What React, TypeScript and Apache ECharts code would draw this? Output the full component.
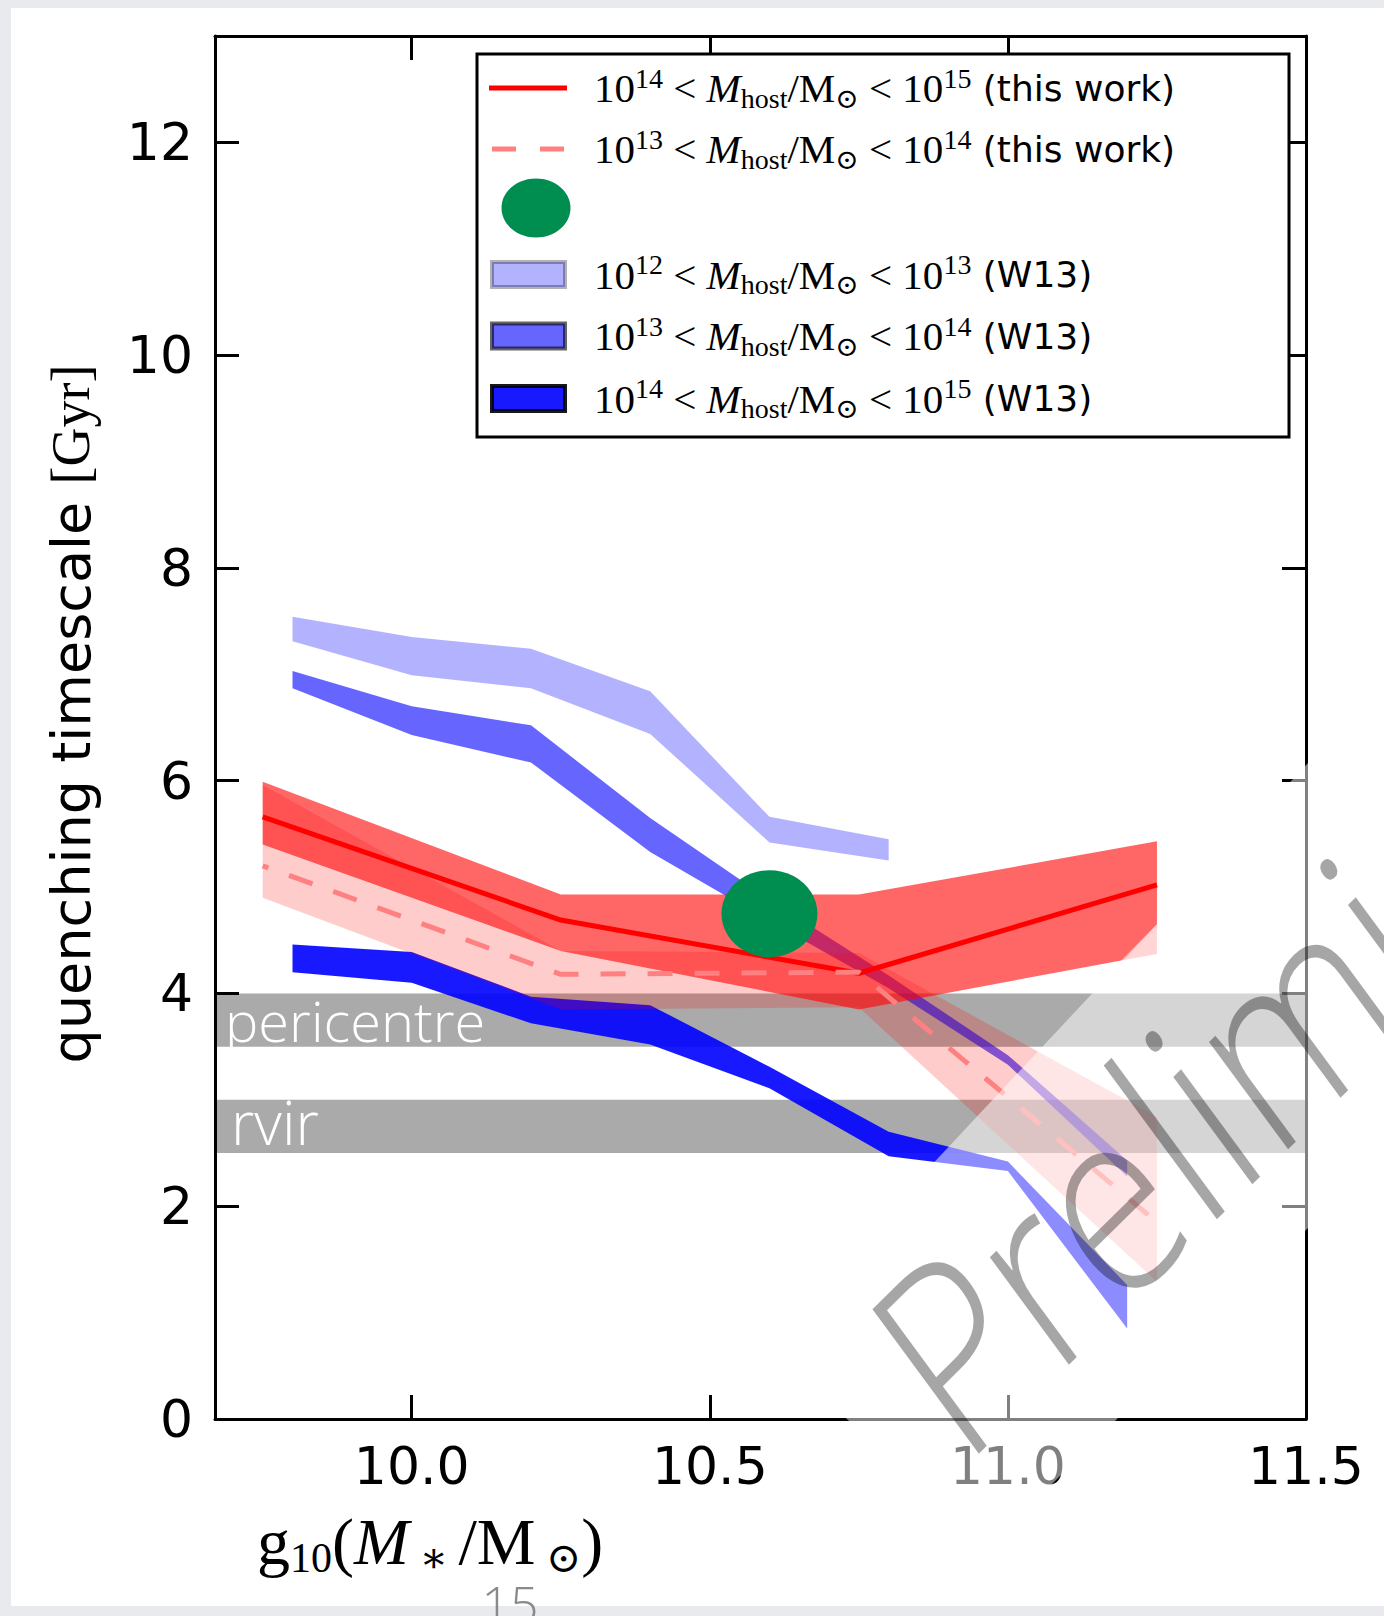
import { useEffect, useRef } from 'react'
import * as echarts from 'echarts'

const W = 1384
const H = 1616

// Wetzel+13 bins (log10 M*)
const w13X = [9.8, 10.0, 10.2, 10.4, 10.6, 10.8, 11.0, 11.2]
const w13LowX = [9.8, 10.0, 10.2, 10.4, 10.6, 10.8]
const w13LowHi = [7.54, 7.35, 7.24, 6.84, 5.66, 5.45]
const w13LowLo = [7.31, 6.99, 6.87, 6.44, 5.42, 5.25]
const w13MidHi = [7.03, 6.7, 6.52, 5.65, 4.88, 4.17, 3.42, 2.43]
const w13MidLo = [6.87, 6.43, 6.17, 5.33, 4.68, 4.05, 3.33, 2.28]
const w13HighHi = [4.46, 4.39, 3.97, 3.89, 3.31, 2.7, 2.42, 1.26]
const w13HighLo = [4.2, 4.1, 3.72, 3.52, 3.11, 2.47, 2.33, 0.85]

// this work
const twX = [9.75, 10.25, 10.75, 11.25]
const clusterMed = [5.66, 4.69, 4.19, 5.02]
const clusterHi = [5.99, 4.93, 4.93, 5.43]
const clusterLoX = [9.75, 10.25, 10.75, 11.19, 11.25]
const clusterLo = [5.4, 4.4, 3.85, 4.31, 4.65]
const clusterTailX = [11.19, 11.25]
const clusterTailHi = [4.31, 4.65]
const clusterTailLo = [4.31, 4.37]
const groupMed = [5.2, 4.18, 4.2, 1.85]
const groupHi = [5.96, 4.4, 4.38, 2.84]
const groupLo = [4.9, 3.85, 3.87, 1.29]

const greenPoint = [10.6, 4.75]

const refNames = ['pericentre', 'rvir']
const refLo = [3.5, 2.5]
const refHi = [4.0, 3.0]

const xTicks = [10.0, 10.5, 11.0, 11.5]
const yTicks = [0, 2, 4, 6, 8, 10, 12]

const SERIF = 'Liberation Serif, DejaVu Serif, serif'
const SANS = 'DejaVu Sans, sans-serif'
const THIN = 'Open Sans, Lato, sans-serif'

const legendTexts = [
  '{n|10}{sup|14}{n| < }{i|M}{sub|host}{n|/M}{sub|⊙}{n| < 10}{sup|15}{s| (this work)}',
  '{n|10}{sup|13}{n| < }{i|M}{sub|host}{n|/M}{sub|⊙}{n| < 10}{sup|14}{s| (this work)}',
  '',
  '{n|10}{sup|12}{n| < }{i|M}{sub|host}{n|/M}{sub|⊙}{n| < 10}{sup|13}{s| (W13)}',
  '{n|10}{sup|13}{n| < }{i|M}{sub|host}{n|/M}{sub|⊙}{n| < 10}{sup|14}{s| (W13)}',
  '{n|10}{sup|14}{n| < }{i|M}{sub|host}{n|/M}{sub|⊙}{n| < 10}{sup|15}{s| (W13)}',
]
const legendRows = [88, 149, 208, 274.5, 336, 398.5]

function bandPoints(xHi: number[], hi: number[], xLo: number[], lo: number[]) {
  const top = xHi.map((x, i) => [x, hi[i]])
  const bottom = xLo.map((x, i) => [x, lo[i]]).reverse()
  return top.concat(bottom)
}

function bandSeries(points: number[][], fill: string, z: number) {
  return {
    type: 'custom',
    coordinateSystem: 'cartesian2d',
    silent: true,
    z,
    data: points,
    renderItem: (params: any, api: any) => {
      if (params.dataIndex !== 0) return null
      const pts = points.map((p) => api.coord(p))
      return { type: 'polygon', shape: { points: pts }, style: { fill } }
    },
  }
}

const legendRich = {
  n: { fontFamily: SERIF, fontSize: 41, lineHeight: 48, verticalAlign: 'middle', color: '#000' },
  i: { fontFamily: SERIF, fontStyle: 'italic', fontSize: 41, lineHeight: 48, verticalAlign: 'middle', color: '#000' },
  sup: { fontFamily: SERIF, fontSize: 28, lineHeight: 28, verticalAlign: 'top', color: '#000' },
  sub: { fontFamily: SERIF, fontSize: 28, lineHeight: 28, verticalAlign: 'bottom', color: '#000' },
  s: { fontFamily: SANS, fontSize: 36, lineHeight: 48, verticalAlign: 'middle', color: '#000' },
}

function buildOption(): echarts.EChartsOption {
  const axisLine = { show: true, onZero: false, lineStyle: { color: '#000', width: 3 } }
  const xTick = { show: true, inside: true, length: 24, lineStyle: { color: '#000', width: 3 }, customValues: xTicks }
  const yTick = { show: true, inside: true, length: 24, lineStyle: { color: '#000', width: 3 }, customValues: yTicks }

  const patchStyles = [
    { fill: 'rgba(0,0,255,0.3)', stroke: 'rgba(0,0,0,0.3)' },
    { fill: 'rgba(0,0,255,0.6)', stroke: 'rgba(0,0,0,0.6)' },
    { fill: 'rgba(0,0,255,0.9)', stroke: 'rgba(0,0,0,0.9)' },
  ]

  const legendGraphics: any[] = [
    { type: 'rect', z: 20, shape: { x: 477, y: 54, width: 812, height: 383 }, style: { fill: '#fff', stroke: '#000', lineWidth: 3 } },
    { type: 'line', z: 21, shape: { x1: 489, y1: legendRows[0], x2: 567, y2: legendRows[0] }, style: { stroke: '#ff0000', lineWidth: 5 } },
    { type: 'line', z: 21, shape: { x1: 492, y1: legendRows[1], x2: 566, y2: legendRows[1] }, style: { stroke: '#ff8080', lineWidth: 5, lineDash: [24, 24] } },
    { type: 'ellipse', z: 21, shape: { cx: 536, cy: legendRows[2], rx: 34.5, ry: 29.5 }, style: { fill: '#008e50' } },
  ]
  patchStyles.forEach((p, k) => {
    legendGraphics.push({
      type: 'rect',
      z: 21,
      shape: { x: 492, y: legendRows[3 + k] - 12.5, width: 73, height: 25 },
      style: { fill: p.fill, stroke: p.stroke, lineWidth: 4 },
    })
  })
  legendTexts.forEach((t, k) => {
    if (!t) return
    legendGraphics.push({
      type: 'text',
      z: 21,
      x: 594,
      y: legendRows[k],
      style: { text: t, rich: legendRich, align: 'left', verticalAlign: 'middle' },
    })
  })

  return {
    animation: false,
    backgroundColor: 'transparent',
    grid: { left: 215, right: 78, top: 36, bottom: 197, containLabel: false, outerBoundsMode: 'none' } as any,
    xAxis: [
      {
        type: 'value', min: 9.67, max: 11.5, position: 'bottom', z: 10,
        axisLine, axisTick: xTick, splitLine: { show: false },
        axisLabel: {
          show: true, customValues: xTicks, formatter: (v: number) => v.toFixed(1),
          fontFamily: SANS, fontSize: 52, color: '#000', margin: 21,
        },
      } as any,
      {
        type: 'value', min: 9.67, max: 11.5, position: 'top', z: 10,
        axisLine, axisTick: xTick, splitLine: { show: false }, axisLabel: { show: false },
      } as any,
    ],
    yAxis: [
      {
        type: 'value', min: 0, max: 13, position: 'left', z: 10,
        axisLine, axisTick: yTick, splitLine: { show: false },
        axisLabel: {
          show: true, customValues: yTicks, formatter: (v: number) => String(v),
          fontFamily: SANS, fontSize: 52, color: '#000', margin: 22,
        },
      } as any,
      {
        type: 'value', min: 0, max: 13, position: 'right', z: 10,
        axisLine, axisTick: yTick, splitLine: { show: false }, axisLabel: { show: false },
      } as any,
    ],
    series: [
      {
        type: 'line',
        data: [],
        z: 1,
        silent: true,
        markArea: {
          silent: true,
          itemStyle: { color: '#aaaaaa' },
          label: {
            show: true, position: 'insideLeft', distance: 10, color: '#fff',
            fontFamily: THIN, fontWeight: 300, fontSize: 56,
          },
          data: refNames.map((n, i) => [
            { name: n, yAxis: refLo[i], label: i === 1 ? { offset: [6, -4], fontSize: 60 } : {} },
            { yAxis: refHi[i] },
          ]),
        },
      } as any,
      bandSeries(bandPoints(w13LowX, w13LowHi, w13LowX, w13LowLo), 'rgba(0,0,255,0.3)', 2),
      bandSeries(bandPoints(w13X, w13MidHi, w13X, w13MidLo), 'rgba(0,0,255,0.6)', 2),
      bandSeries(bandPoints(w13X, w13HighHi, w13X, w13HighLo), 'rgba(0,0,255,0.9)', 2),
      bandSeries(bandPoints(twX, groupHi, twX, groupLo), 'rgba(255,0,0,0.2)', 3),
      bandSeries(bandPoints(twX, clusterHi, clusterLoX, clusterLo), 'rgba(255,0,0,0.6)', 3),
      bandSeries(bandPoints(clusterTailX, clusterTailHi, clusterTailX, clusterTailLo), 'rgba(255,0,0,0.33)', 3),
      {
        type: 'line',
        data: twX.map((x, i) => [x, clusterMed[i]]),
        symbol: 'none',
        silent: true,
        z: 4,
        lineStyle: { color: '#ff0000', width: 5 },
      },
      {
        type: 'line',
        data: twX.map((x, i) => [x, groupMed[i]]),
        symbol: 'none',
        silent: true,
        z: 5,
        lineStyle: { color: '#ff8080', width: 5, type: [25, 22], dashOffset: 19 },
      } as any,
      {
        type: 'scatter',
        data: [greenPoint],
        symbol: 'circle',
        symbolSize: [96, 87],
        silent: true,
        z: 6,
        itemStyle: { color: '#008e50', opacity: 1 },
      },
    ],
    graphic: [
      ...legendGraphics,
      // y axis name
      {
        type: 'text', z: 21, x: 71, y: 714, rotation: Math.PI / 2,
        style: {
          text: '{a|quenching timescale }{b|[Gyr]}',
          align: 'center', verticalAlign: 'middle',
          rich: {
            a: { fontFamily: SANS, fontSize: 54, color: '#000' },
            b: { fontFamily: SERIF, fontSize: 54, color: '#000' },
          },
        },
      },
      // x axis name (left part hidden on the slide)
      {
        type: 'text', z: 21, x: 257, y: 1541,
        style: {
          text: '{m|g}{sb|10}{m|(}{it|M}{sb| ∗ }{m|/M}{sb| ⊙}{m|)}',
          align: 'left', verticalAlign: 'middle',
          rich: {
            m: { fontFamily: SERIF, fontSize: 66, lineHeight: 76, verticalAlign: 'middle', color: '#000' },
            it: { fontFamily: SERIF, fontStyle: 'italic', fontSize: 66, lineHeight: 76, verticalAlign: 'middle', color: '#000' },
            sb: { fontFamily: SERIF, fontSize: 42, lineHeight: 42, verticalAlign: 'bottom', color: '#000' },
          },
        },
      },
      // washed stripe under the watermark
      {
        type: 'polygon', z: 100, silent: true,
        shape: { points: [[765, 1343], [1601, 450], [2086, 450], [987, 1549]] },
        style: { fill: 'rgba(255,255,255,0.5)' },
      },
      // watermark: rotated, narrowed, then stretched vertically like the slide
      {
        type: 'group', x: 962, y: 1468, scaleY: 1.155, z: 101, silent: true,
        children: [
          {
            type: 'group', rotation: 0.705,
            children: [
              {
                type: 'text', x: 0, y: -88, scaleX: 0.9, z: 101,
                style: {
                  text: 'Preliminary', align: 'left', verticalAlign: 'middle',
                  fontFamily: THIN, fontWeight: 300, fontSize: 230, fill: 'rgba(0,0,0,0.35)',
                },
              },
            ],
          },
        ],
      },
      // slide number
      {
        type: 'text', z: 101, x: 510, y: 1604,
        style: {
          text: '15', align: 'center', verticalAlign: 'middle',
          fontFamily: THIN, fontWeight: 300, fontSize: 50, fill: '#8a8a8a',
        },
      },
    ] as any,
  }
}

export default function App() {
  const ref = useRef<HTMLDivElement>(null)

  useEffect(() => {
    if (!ref.current) return
    const chart = echarts.init(ref.current, null, { renderer: 'svg' })
    chart.setOption(buildOption())
    return () => {
      chart.dispose()
    }
  }, [])

  return (
    <div style={{ position: 'absolute', left: 0, top: 0, width: W, height: H, background: '#e8eaed', overflow: 'hidden' }}>
      <div style={{ position: 'absolute', left: 11, top: 8, width: W - 11, height: 1598, background: '#fff' }} />
      <div ref={ref} style={{ position: 'absolute', left: 0, top: 0, width: W, height: H }} />
    </div>
  )
}
